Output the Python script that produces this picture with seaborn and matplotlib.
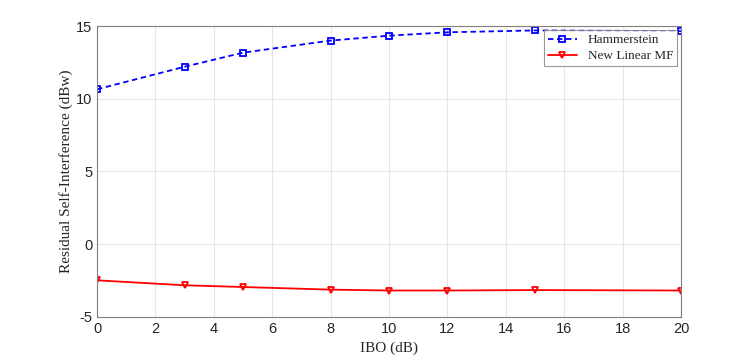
import matplotlib
matplotlib.use("Agg")
import matplotlib.pyplot as plt
import seaborn as sns
import pandas as pd

# values
ibo = [0, 3, 5, 8, 10, 12, 15, 20]
hammerstein = [10.65, 12.2, 13.17, 14.0, 14.34, 14.57, 14.7, 14.65]
new_linear_mf = [-2.5, -2.84, -2.96, -3.14, -3.2, -3.2, -3.17, -3.2]

df = pd.concat([
    pd.DataFrame({'IBO': ibo, 'value': hammerstein, 'method': 'Hammerstein'}),
    pd.DataFrame({'IBO': ibo, 'value': new_linear_mf, 'method': 'New Linear MF'}),
])

sns.set_style("white")
plt.rcParams['font.family'] = ['Liberation Sans', 'DejaVu Sans']
plt.rcParams['axes.unicode_minus'] = False

fig = plt.figure(figsize=(7.48, 3.57), dpi=100)
ax = fig.add_axes([0.1297, 0.113, 0.7807, 0.814])

sns.lineplot(data=df, x='IBO', y='value', hue='method', style='method',
             palette={'Hammerstein': '#0000ff', 'New Linear MF': '#ff0000'},
             dashes={'Hammerstein': (3, 2), 'New Linear MF': ''},
             markers={'Hammerstein': 's', 'New Linear MF': 'v'},
             markersize=5, markeredgewidth=1.3,
             linewidth=1.3, ax=ax)

for line in ax.lines:
    line.set_markerfacecolor('none')
    line.set_markeredgecolor(line.get_color())

ax.set_xlim(0, 20)
ax.set_ylim(-5, 15)
ax.set_xticks(range(0, 21, 2))
ax.set_yticks([-5, 0, 5, 10, 15])
ax.grid(True, color='#e6e6e6', linewidth=0.8)
ax.tick_params(direction='in', length=4, labelsize=10.5, colors='#262626')
for s in ax.spines.values():
    s.set_color('#808080')
    s.set_linewidth(0.8)

ax.set_xlabel('IBO (dB)', family=['Liberation Serif'], fontsize=11, color='#262626')
ax.set_ylabel('Residual Self-Interference (dBw)', family=['Liberation Serif'],
              fontsize=11, color='#262626', labelpad=2)

leg = ax.legend(loc='upper right', prop={'family': 'Liberation Serif', 'size': 9.5},
                frameon=True, fancybox=False, borderaxespad=0.3,
                handlelength=2.2, borderpad=0.3, labelspacing=0.3)
leg.get_frame().set_edgecolor('#808080')
leg.get_frame().set_linewidth(0.8)
for h in leg.get_lines():
    h.set_markerfacecolor('none')

fig.savefig('out.png', dpi=100)
